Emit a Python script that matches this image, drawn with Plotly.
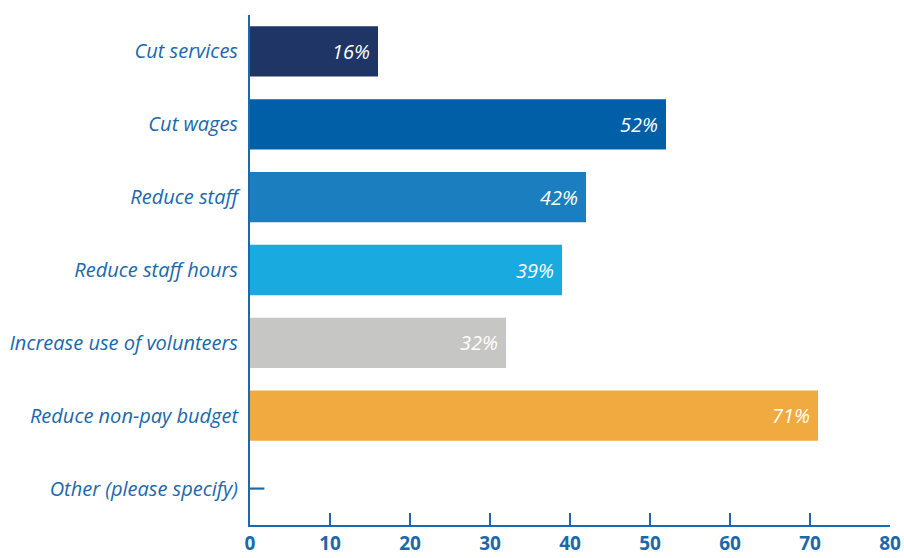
import plotly.graph_objects as go

categories = [
    "Cut services",
    "Cut wages",
    "Reduce staff",
    "Reduce staff hours",
    "Increase use of volunteers",
    "Reduce non-pay budget",
    "Other (please specify)",
]
values = [16, 52, 42, 39, 32, 71, 1.8]
labels = ["16%", "52%", "42%", "39%", "32%", "71%", ""]
colors = ["#1f3566", "#005fa6", "#1b7fbf", "#19abe0", "#c6c6c5", "#f1aa3f", "#1a68ad"]
bar_widths = [0.69, 0.69, 0.69, 0.69, 0.69, 0.69, 0.03]
x_ticks = [0, 10, 20, 30, 40, 50, 60, 70, 80]

axis_blue = "#1a68ad"
pad = "\u00a0"

fig = go.Figure(
    go.Bar(
        x=values,
        y=categories,
        orientation="h",
        width=bar_widths,
        marker=dict(color=colors, line=dict(width=0)),
        text=[t + pad if t else "" for t in labels],
        textposition="inside",
        insidetextanchor="end",
        textangle=0,
        textfont=dict(family="Open Sans", size=20, color="white", style="italic"),
        cliponaxis=False,
    )
)

fig.update_layout(
    width=904,
    height=558,
    margin=dict(l=250, r=14, t=15, b=33, autoexpand=False),
    paper_bgcolor="white",
    plot_bgcolor="white",
    showlegend=False,
)

fig.update_xaxes(
    range=[0, 80],
    tickvals=x_ticks,
    ticks="inside",
    ticklen=12,
    tickwidth=2,
    tickcolor=axis_blue,
    showline=True,
    linecolor=axis_blue,
    linewidth=2,
    showgrid=False,
    zeroline=False,
    automargin=False,
    tickfont=dict(family="Open Sans", size=19, color=axis_blue, weight="bold"),
    layer="below traces",
)

fig.update_yaxes(
    categoryorder="array",
    categoryarray=categories,
    range=[6.5, -0.5],
    showline=True,
    linecolor=axis_blue,
    linewidth=2,
    showgrid=False,
    zeroline=False,
    ticks="",
    automargin=False,
    ticklabelstandoff=6,
    tickfont=dict(family="Open Sans", size=20, color=axis_blue, style="italic"),
    layer="below traces",
)

fig.write_html("out.html")
